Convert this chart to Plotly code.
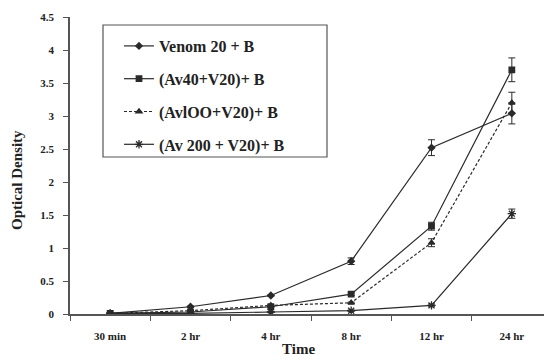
import plotly.graph_objects as go

times = ["30 min", "2 hr", "4 hr", "8 hr", "12 hr", "24 hr"]
series_names = ["Venom 20 + B", "(Av40+V20)+ B", "(AvlOO+V20)+ B", "(Av 200 + V20)+ B"]
venom = [0.01, 0.11, 0.28, 0.80, 2.52, 3.04]
venom_err = [0.0, 0.01, 0.01, 0.05, 0.12, 0.16]
av40 = [0.01, 0.03, 0.11, 0.30, 1.33, 3.70]
av40_err = [0.0, 0.0, 0.01, 0.02, 0.06, 0.18]
av100 = [0.01, 0.05, 0.13, 0.17, 1.08, 3.20]
av100_err = [0.0, 0.0, 0.01, 0.01, 0.06, 0.16]
av200 = [0.01, 0.01, 0.03, 0.05, 0.13, 1.52]
av200_err = [0.0, 0.0, 0.0, 0.01, 0.02, 0.07]
yticks = [0, 0.5, 1, 1.5, 2, 2.5, 3, 3.5, 4, 4.5]
ytick_labels = ["0", "0.5", "1", "1.5", "2", "2.5", "3", "3.5", "4", "4.5"]
x_title = "Time"
y_title = "Optical Density"

ink = "#2a2a2a"
font_family = "Liberation Serif, DejaVu Serif, serif"

styles = [
    dict(symbol="diamond", size=5, dash="solid"),
    dict(symbol="square", size=5.5, dash="solid"),
    dict(symbol="triangle-up", size=5.5, dash="3px,2px"),
    dict(symbol="asterisk-open", size=7, dash="solid"),
]
values = [venom, av40, av100, av200]
errors = [venom_err, av40_err, av100_err, av200_err]

fig = go.Figure()
for i, (name, ys, es, st) in enumerate(zip(series_names, values, errors, styles)):
    fig.add_trace(go.Scatter(
        x=times, y=ys, name=name, mode="lines+markers",
        legendgroup=f"g{i}",
        line=dict(color=ink, width=1.2, dash=st["dash"]),
        marker=dict(symbol=st["symbol"], size=st["size"], color=ink,
                    line=dict(color=ink, width=1.3)),
        error_y=dict(type="data", array=es, visible=True, color=ink,
                     thickness=1, width=3.5),
    ))

# plot area in page pixels: x 70..552, y 17..314 (page has an 8px body margin)
fig.add_shape(type="rect", xref="paper", yref="paper",
              x0=(103 - 70) / 482, x1=(327 - 70) / 482,
              y0=(314 - 157) / 297, y1=(314 - 25) / 297,
              line=dict(color="#555", width=1.2), fillcolor="rgba(0,0,0,0)")

title_font = dict(size=15, weight="bold", family=font_family, color="#222")
fig.add_annotation(text=y_title, xref="paper", yref="paper",
                   x=0, xshift=-(70 - 17), y=(314 - 180) / 297,
                   xanchor="center", yanchor="middle", textangle=-90,
                   showarrow=False, font=title_font)
fig.add_annotation(text=x_title, xref="paper", yref="paper",
                   x=(298 - 70) / 482, y=0, yshift=-45,
                   xanchor="center", yanchor="bottom",
                   showarrow=False, font=title_font)

fig.update_layout(
    width=544, height=348,
    margin=dict(l=62, r=0, t=9, b=42),
    paper_bgcolor="white", plot_bgcolor="white",
    font=dict(family=font_family, color=ink),
    showlegend=True,
    legend=dict(
        x=(119 - 70) / 482, y=(314 - 29) / 297, xanchor="left", yanchor="top",
        bgcolor="rgba(0,0,0,0)", borderwidth=0,
        font=dict(family=font_family, size=16, color="#222", weight="bold"),
        tracegroupgap=9, itemwidth=30,
    ),
    xaxis=dict(
        type="category", categoryorder="array", categoryarray=times,
        range=[-0.5, 5.5], tickson="boundaries", automargin=False,
        showline=True, linecolor="#555", linewidth=1.5,
        ticks="outside", ticklen=5, tickcolor="#555", tickwidth=1.2,
        showgrid=False, zeroline=False,
        tickfont=dict(size=11, weight="bold", family=font_family, color="#222"),
        ticklabelstandoff=11,
    ),
    yaxis=dict(
        range=[0, 4.5], tickvals=yticks, ticktext=ytick_labels, automargin=False,
        showline=True, linecolor="#555", linewidth=1.5,
        ticks="outside", ticklen=5, tickcolor="#555", tickwidth=1.2,
        showgrid=False, zeroline=False,
        tickfont=dict(size=11, weight="bold", family=font_family, color="#222"),
        ticklabelstandoff=7,
    ),
)

fig.write_html("out.html")
